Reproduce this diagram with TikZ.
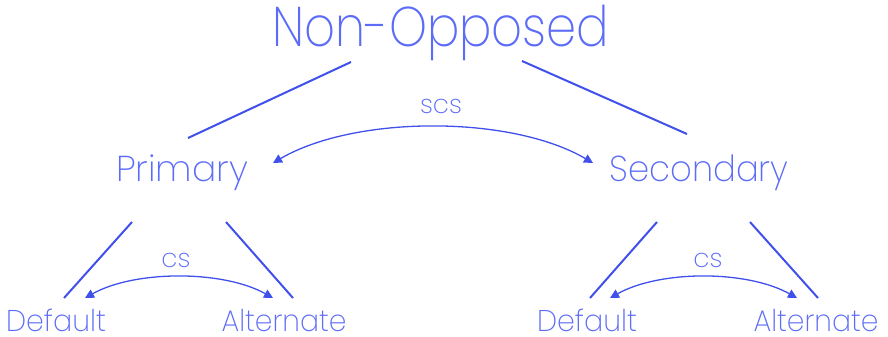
\documentclass[tikz,border=0pt]{standalone}
\usepackage{fontspec}
\setmainfont{Poppins ExtraLight}
\usetikzlibrary{arrows.meta}
\definecolor{lc}{RGB}{64,80,235}
\definecolor{tc}{RGB}{92,108,246}
\newcommand{\hsq}[2]{\scalebox{#1}[1]{#2}}
\tikzset{
  lbl/.style={text=tc, inner sep=0pt, anchor=base},
  big/.style={lbl, font=\fontsize{56}{60}\selectfont},
  mid/.style={lbl, font=\fontsize{36}{40}\selectfont},
  small/.style={lbl, font=\fontsize{30}{34}\selectfont},
  tiny/.style={lbl, font=\fontsize{26}{30}\selectfont},
  branch/.style={draw=lc, line width=2pt},
  swap/.style={draw=lc, line width=1.3pt, {Triangle[length=9pt,width=9pt]}-{Triangle[length=9pt,width=9pt]}}
}
\begin{document}
\begin{tikzpicture}[x=1pt,y=-1pt]
\useasboundingbox (0,0) rectangle (888,337);
% labels
\node[big]   (top) at (441,47)  {\hsq{0.86}{Non-Opposed}};
\node[mid]   (pri) at (182,181) {Primary};
\node[mid]   (sec) at (699,181) {\hsq{0.94}{Secondary}};
\node[small] (pd)  at (56,331)  {\hsq{0.95}{Default}};
\node[small] (pa)  at (284,331) {\hsq{0.94}{Alternate}};
\node[small] (sd)  at (587,331) {\hsq{0.95}{Default}};
\node[small] (sa)  at (816,331) {\hsq{0.94}{Alternate}};
\node[tiny]  (scs) at (441,113) {scs};
\node[tiny]  (cs1) at (176,267) {cs};
\node[tiny]  (cs2) at (708,267) {cs};
% branch end points
\coordinate (t1) at (351,62);  \coordinate (p0) at (188,138);
\coordinate (t2) at (522,61);  \coordinate (s0) at (687,134);
\coordinate (p1) at (132,222); \coordinate (pd0) at (64,298);
\coordinate (p2) at (226,222); \coordinate (pa0) at (293,298);
\coordinate (s1) at (657,222); \coordinate (sd0) at (590,298);
\coordinate (s2) at (750,222); \coordinate (sa0) at (818,298);
\draw[branch] (t1) -- (p0);
\draw[branch] (t2) -- (s0);
\draw[branch] (p1) -- (pd0);
\draw[branch] (p2) -- (pa0);
\draw[branch] (s1) -- (sd0);
\draw[branch] (s2) -- (sa0);
% swap arrows
\coordinate (pe) at (273,163); \coordinate (se) at (593,163);
\coordinate (pde) at (85,298); \coordinate (pae) at (273,298);
\coordinate (sde) at (610,298); \coordinate (sae) at (797,298);
\draw[swap] (pe) .. controls (355,115) and (511,115) .. (se);
\draw[swap] (pde) .. controls (135,270) and (223,270) .. (pae);
\draw[swap] (sde) .. controls (660,270) and (747,270) .. (sae);
\end{tikzpicture}
\end{document}
